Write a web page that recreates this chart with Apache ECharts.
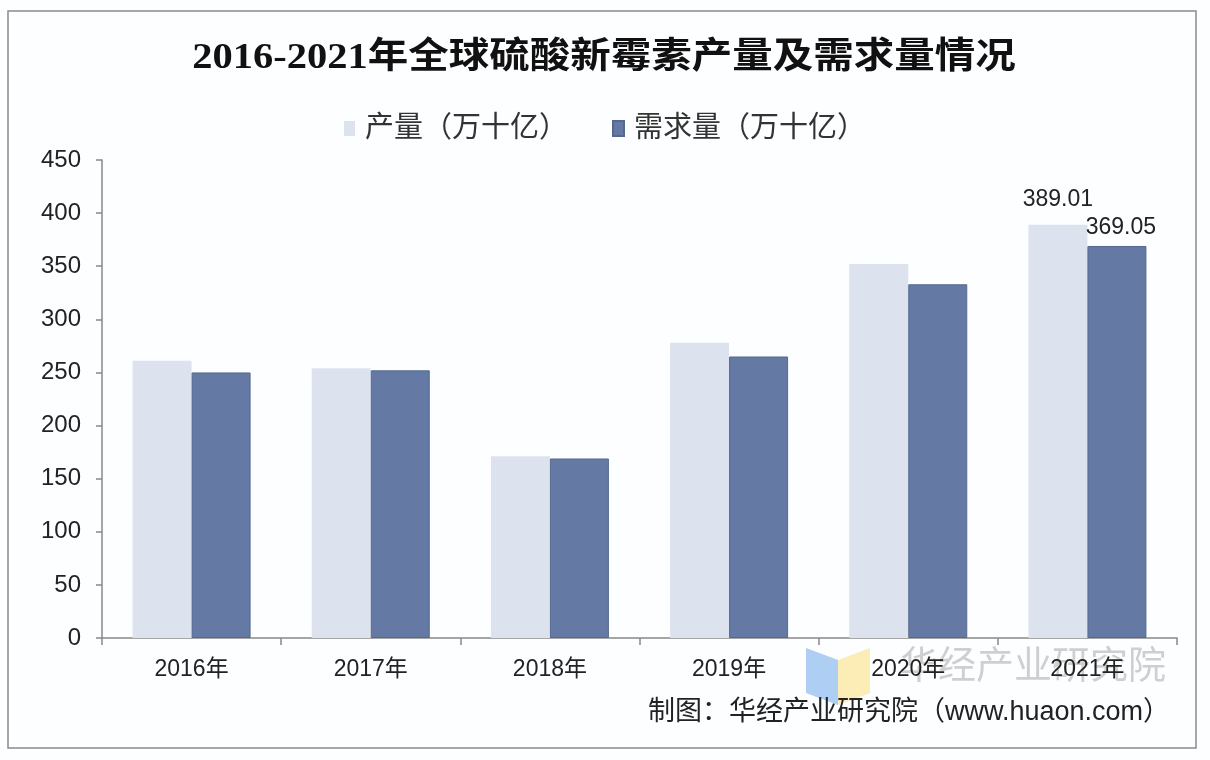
<!DOCTYPE html>
<html><head><meta charset="utf-8">
<script src="https://cdn.jsdelivr.net/npm/echarts@6/dist/echarts.min.js"></script>
<style>html,body{margin:0;padding:0;background:#fff}#c{width:1210px;height:760px}</style>
</head><body><div id="c"></div>
<script>
const categories = ['2016年','2017年','2018年','2019年','2020年','2021年'];
const production = [261, 254, 171, 278, 352, 389.01];
const demand = [250, 252, 169, 265, 333, 369.05];
const seriesNames = ['产量（万十亿）','需求量（万十亿）'];
const titleText = '2016-2021年全球硫酸新霉素产量及需求量情况';
const sourceText = '制图：华经产业研究院（www.huaon.com）';
const watermarkText = '华经产业研究院';
const yTicks = {min: 0, max: 450, interval: 50};

const chart = echarts.init(document.getElementById('c'));
const lastIdx = categories.length - 1;
const CJK = "'Liberation Sans','Noto Sans CJK SC',sans-serif";

chart.setOption({
  backgroundColor: '#fdfeff',
  animation: false,
  legend: {
    data: seriesNames,
    left: 'center', top: 109,
    itemWidth: 11, itemHeight: 15, itemGap: 44,
    icon: 'rect',
    textStyle: {fontSize: 29, color: '#333', fontFamily: CJK, padding: [0, 0, 0, 5]}
  },
  grid: {left: 102, right: 33, top: 160, bottom: 122, containLabel: false},
  xAxis: {
    type: 'category', data: categories,
    axisLine: {lineStyle: {color: '#888', width: 1.5}},
    axisTick: {show: true, length: 7, lineStyle: {color: '#888', width: 1.5}},
    axisLabel: {fontSize: 23, color: '#222', margin: 20, fontFamily: CJK}
  },
  yAxis: {
    type: 'value', min: yTicks.min, max: yTicks.max, interval: yTicks.interval,
    axisLine: {show: true, lineStyle: {color: '#888', width: 1.5}},
    axisTick: {show: true, length: 6, lineStyle: {color: '#888', width: 1.5}},
    splitLine: {show: false},
    axisLabel: {fontSize: 24, color: '#222', margin: 21, fontFamily: CJK}
  },
  series: [
    {
      name: seriesNames[0], type: 'bar', barWidth: 59, barGap: '0%',
      itemStyle: {color: '#dce3ee'},
      data: production.map((v, i) => i === lastIdx
        ? {value: v, label: {show: true, position: 'top', distance: 14, fontSize: 23, color: '#222', fontFamily: CJK}}
        : v)
    },
    {
      name: seriesNames[1], type: 'bar', barWidth: 59,
      itemStyle: {color: '#6479a4', borderColor: '#55698f', borderWidth: 1},
      data: demand.map((v, i) => i === lastIdx
        ? {value: v, label: {show: true, position: 'top', distance: 7, fontSize: 23, color: '#222', fontFamily: CJK, offset: [4, 0]}}
        : v)
    }
  ],
  graphic: [
    {type: 'rect', shape: {x: 8, y: 11, width: 1188, height: 737},
     style: {fill: 'none', stroke: '#8a8a8a', lineWidth: 1.5}, silent: true, z: -1},
    {type: 'text', x: 604, y: 59, scaleX: 1.125,
     style: {text: titleText, textAlign: 'center', textVerticalAlign: 'middle',
       fontSize: 36, fontWeight: 'bold', fill: '#111',
       fontFamily: "'Liberation Serif','Noto Sans CJK SC',serif"}},
    {type: 'polygon', shape: {points: [[806,648],[838,660],[838,705],[806,693]]},
     style: {fill: 'rgba(140,185,240,0.7)'}, silent: true},
    {type: 'polygon', shape: {points: [[838,660],[870,648],[870,693],[838,705]]},
     style: {fill: 'rgba(250,230,150,0.7)'}, silent: true},
    {type: 'text', x: 1166, y: 668,
     style: {text: watermarkText, textAlign: 'right', textVerticalAlign: 'middle',
       fontSize: 38, fill: 'rgba(150,150,150,0.45)', fontFamily: CJK}, silent: true},
    {type: 'text', x: 1170, y: 713,
     style: {text: sourceText, textAlign: 'right', textVerticalAlign: 'middle',
       fontSize: 27, fill: '#222', fontFamily: CJK}}
  ]
});
</script></body></html>
